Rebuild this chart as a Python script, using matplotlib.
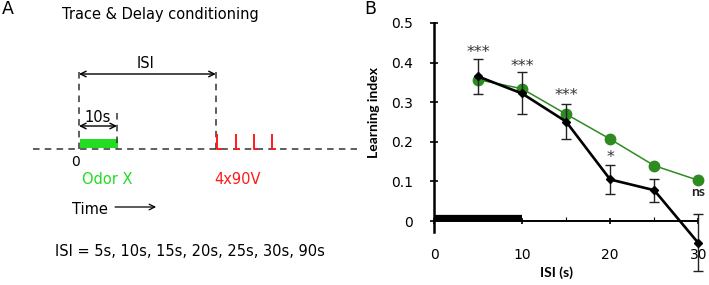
import numpy as np
import matplotlib.pyplot as plt

# panel B data
isi = [5, 10, 15, 20, 25, 30]
trace_li = [0.365, 0.322, 0.251, 0.105, 0.078, -0.055]
trace_sem = [0.044, 0.053, 0.045, 0.037, 0.029, 0.072]
delay_li = [0.357, 0.334, 0.27, 0.207, 0.14, 0.103]
stars = ['***', '***', '***', '*', '', 'ns']
star_y = [0.438, 0.402, 0.328, 0.172, None, 0.074]

# panel A schematic
isi_list = [5, 10, 15, 20, 25, 30, 90]
odor_dur = 10
isi_demo = 36
n_shocks = 4
shock_gap = 4.8

GREEN_A = '#22dd22'
GREEN_B = '#2e8b22'
RED = '#ff1a1a'

fig = plt.figure(figsize=(7.09, 2.85), dpi=100)

# ---- panel A (x in seconds, y in pixels from top) ----
px_s = 3.8
t0 = 79
axa = fig.add_axes([0, 0, 1, 1])
axa.set_xlim(-t0 / px_s, (709 - t0) / px_s)
axa.set_ylim(285, 0)
axa.axis('off')

dash = (0, (4.3, 3.4))
base = 149
axa.plot([-12, (357 - t0) / px_s], [base, base], color='#333333', lw=1.1, ls=dash)
axa.plot([0, 0], [72, base], color='#333333', lw=1.1, ls=dash)
axa.plot([isi_demo, isi_demo], [72, base], color='#333333', lw=1.1, ls=dash)
axa.plot([odor_dur, odor_dur], [113, base], color='#333333', lw=1.1, ls=dash)

axa.annotate('', xy=(isi_demo, 74), xytext=(0, 74),
             arrowprops=dict(arrowstyle='<->', color='black', lw=1, shrinkA=0, shrinkB=0))
axa.text(isi_demo / 2 - 0.5, 63, 'ISI', ha='center', va='center', fontsize=10.5)
axa.annotate('', xy=(odor_dur, 126), xytext=(0, 126),
             arrowprops=dict(arrowstyle='<->', color='black', lw=1, shrinkA=0, shrinkB=0))
axa.text(odor_dur / 2, 117, '10s', ha='center', va='center', fontsize=10.5)

axa.barh(143.5, odor_dur, left=0.2, height=9, color=GREEN_A)
for k in range(n_shocks):
    t = isi_demo + 0.4 + k * shock_gap
    axa.plot([t, t, t + 0.9], [135, base, base], color=RED, lw=1.4)

axa.text(-0.8, 162, '0', ha='center', va='center', fontsize=10)
axa.text(0.8, 180, 'Odor X', ha='left', va='center', fontsize=10.5, color=GREEN_A)
axa.text(isi_demo - 0.5, 180, '4x90V', ha='left', va='center', fontsize=10.5, color=RED)
axa.text(-1.8, 209, 'Time', ha='left', va='center', fontsize=10.5)
axa.annotate('', xy=(20.3, 207), xytext=(9.5, 207),
             arrowprops=dict(arrowstyle='->', color='black', lw=0.9, shrinkA=0, shrinkB=0))
axa.text((190 - t0) / px_s, 252, 'ISI = ' + ', '.join(f'{v}s' for v in isi_list),
         ha='center', va='center', fontsize=10.5)
axa.text((62 - t0) / px_s, 15, 'Trace & Delay conditioning', ha='left', va='center', fontsize=10.5)
axa.text(-t0 / px_s + 0.5, 9, 'A', ha='left', va='center', fontsize=12.5)
axa.text((364 - t0) / px_s, 9, 'B', ha='left', va='center', fontsize=12.5)

# ---- panel B ----
ax = fig.add_axes([434 / 709, 0.0435, 273 / 709, 0.876])
ax.patch.set_alpha(0)
ax.set_xlim(0, 31)
ax.set_ylim(-0.13, 0.5)

ax.plot([0, 10], [0.0075, 0.0075], color='black', lw=4.5, solid_capstyle='butt', zorder=3)
ax.plot(isi, delay_li, color=GREEN_B, lw=1.1, marker='o', ms=7.5, zorder=4, clip_on=False)
ax.errorbar(isi, trace_li, yerr=trace_sem, color='black', lw=1.9, marker='D', ms=4.5,
            ecolor='#222222', elinewidth=1, capsize=3.5, capthick=1, zorder=5, clip_on=False)

for x, s, y in zip(isi, stars, star_y):
    if s == 'ns':
        ax.text(x, y, s, ha='center', va='center', fontsize=10, fontweight='bold',
                family='Lato', color='#222222')
    elif s:
        ax.text(x, y - 0.012, s, ha='center', va='center', fontsize=11.5,
                color='#333333')

for side in ['top', 'right']:
    ax.spines[side].set_visible(False)
ax.spines['bottom'].set_position(('data', 0))
ax.spines['bottom'].set_bounds(0, 30)
ax.spines['left'].set_bounds(-0.028, 0.5)
ax.spines['bottom'].set_linewidth(1.4)
ax.spines['left'].set_linewidth(1.8)

ax.set_xticks([0, 10, 20, 30])
ax.set_xticks([5, 15, 25], minor=True)
ax.set_yticks([0, 0.1, 0.2, 0.3, 0.4, 0.5])
ax.set_yticklabels(['0', '0.1', '0.2', '0.3', '0.4', '0.5'])
ax.tick_params(axis='x', which='major', direction='inout', length=5, width=1.2, pad=17, labelsize=10)
ax.tick_params(axis='x', which='minor', direction='in', length=3, width=0.8)
ax.tick_params(axis='y', direction='inout', length=6, width=1.2, pad=12, labelsize=10)

ax.set_ylabel('Learning index', fontsize=10, fontweight='bold', family='Lato')
ax.yaxis.set_label_coords(-0.198, 0.64)
ax.set_xlabel('ISI (s)', fontsize=10, fontweight='bold', family='Lato')
ax.xaxis.set_label_coords(0.449, 0.0)
ax.xaxis.label.set_va('center')

fig.savefig('out.png', dpi=100)
